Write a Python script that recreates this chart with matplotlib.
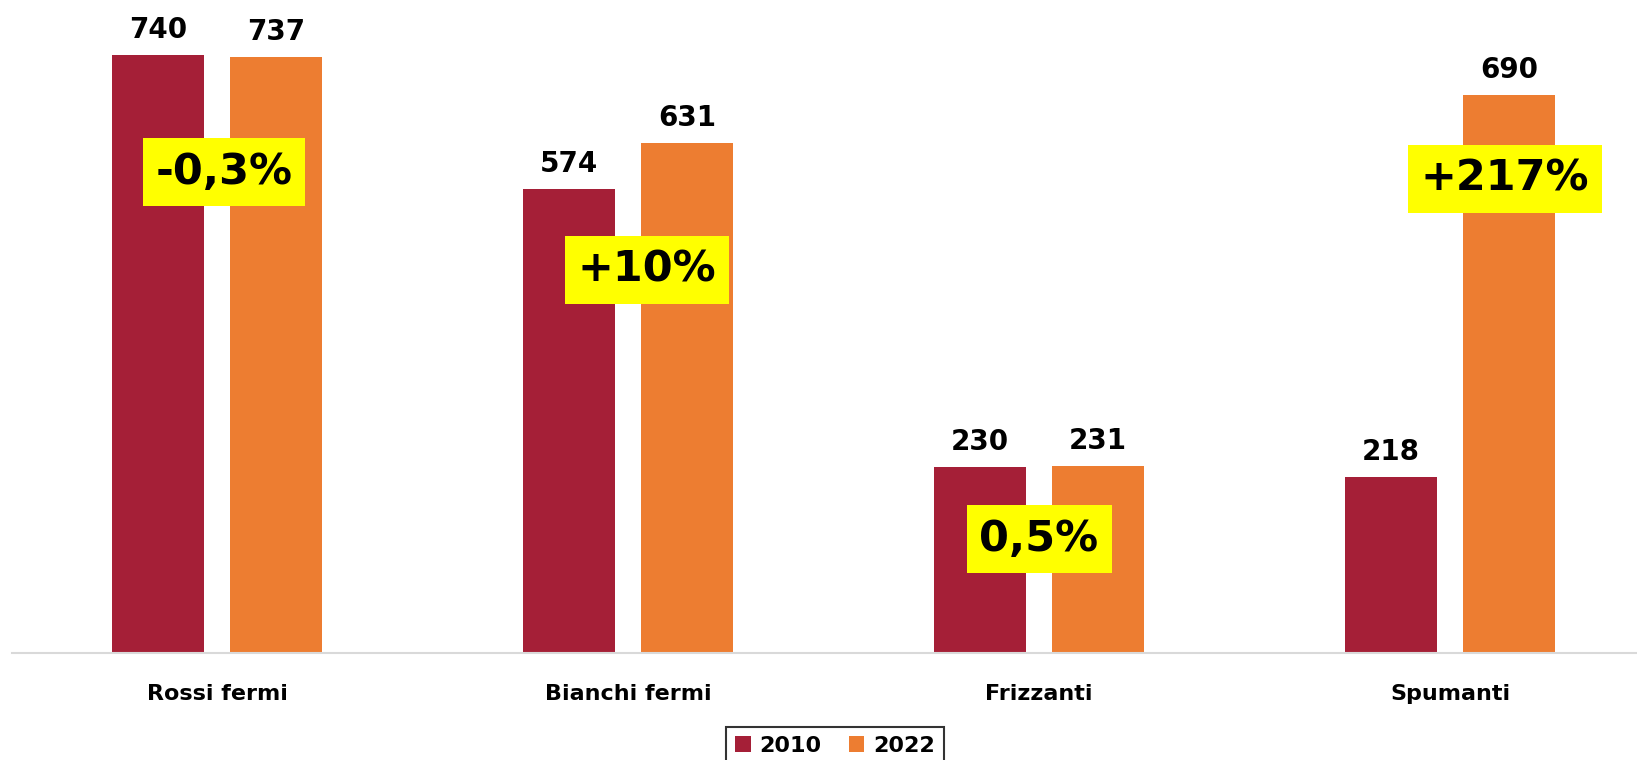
import numpy as np
import matplotlib
matplotlib.use('Agg')
import matplotlib.pyplot as plt

# dati
categorie = ['Rossi fermi', 'Bianchi fermi', 'Frizzanti', 'Spumanti']
anni = ['2010', '2022']
valori2010 = [740, 574, 230, 218]
valori2022 = [737, 631, 231, 690]
variazioni = ['-0,3%', '+10%', '0,5%', '+217%']

# posizione dei riquadri gialli (coordinate dati)
var_x = [0.017, 1.046, 2.0, 3.134]
var_y = [595, 474, 141, 587]

colori = ['#A51F37', '#ED7D31']

plt.rcParams['font.family'] = ['DejaVu Sans']

fig = plt.figure(figsize=(16.37, 7.6), dpi=100)
ax = fig.add_axes([12/1637, 107/760, 1 - 12/1637, 1 - 107/760])

x = np.arange(len(categorie))
larg = 0.224
off = 0.143

b1 = ax.bar(x - off, valori2010, larg, color=colori[0], label=anni[0])
b2 = ax.bar(x + off, valori2022, larg, color=colori[1], label=anni[1])

for barre in (b1, b2):
    for b in barre:
        ax.annotate(f'{int(b.get_height())}',
                    (b.get_x() + b.get_width()/2, b.get_height()),
                    xytext=(0, 8), textcoords='offset points',
                    ha='center', va='bottom', fontsize=20, fontweight='bold')

for xv, yv, t in zip(var_x, var_y, variazioni):
    ax.text(xv, yv, t, ha='center', va='center', fontsize=31, fontweight='bold',
            bbox=dict(boxstyle='square,pad=0.3', facecolor='#FFFF00', edgecolor='none'))

ax.set_xlim(-0.499, 3.455)
ax.set_ylim(0, 808)
ax.set_xticks(x)
ax.set_xticklabels(categorie, fontsize=16, fontweight='bold')
ax.tick_params(axis='x', length=0, pad=22)
ax.set_yticks([])
for s in ['top', 'right', 'left']:
    ax.spines[s].set_visible(False)
ax.spines['bottom'].set_color('#D9D9D9')
ax.spines['bottom'].set_linewidth(1.5)

leg = fig.legend(loc='upper center', bbox_to_anchor=(835/1637, 1 - 716/760),
                 ncol=2, frameon=True, fancybox=False, edgecolor='black',
                 prop={'size': 16, 'weight': 'bold'}, handlelength=0.7,
                 handleheight=0.7, columnspacing=1.2, handletextpad=0.4)
leg.get_frame().set_linewidth(1.5)

fig.savefig('out.png', dpi=100)
